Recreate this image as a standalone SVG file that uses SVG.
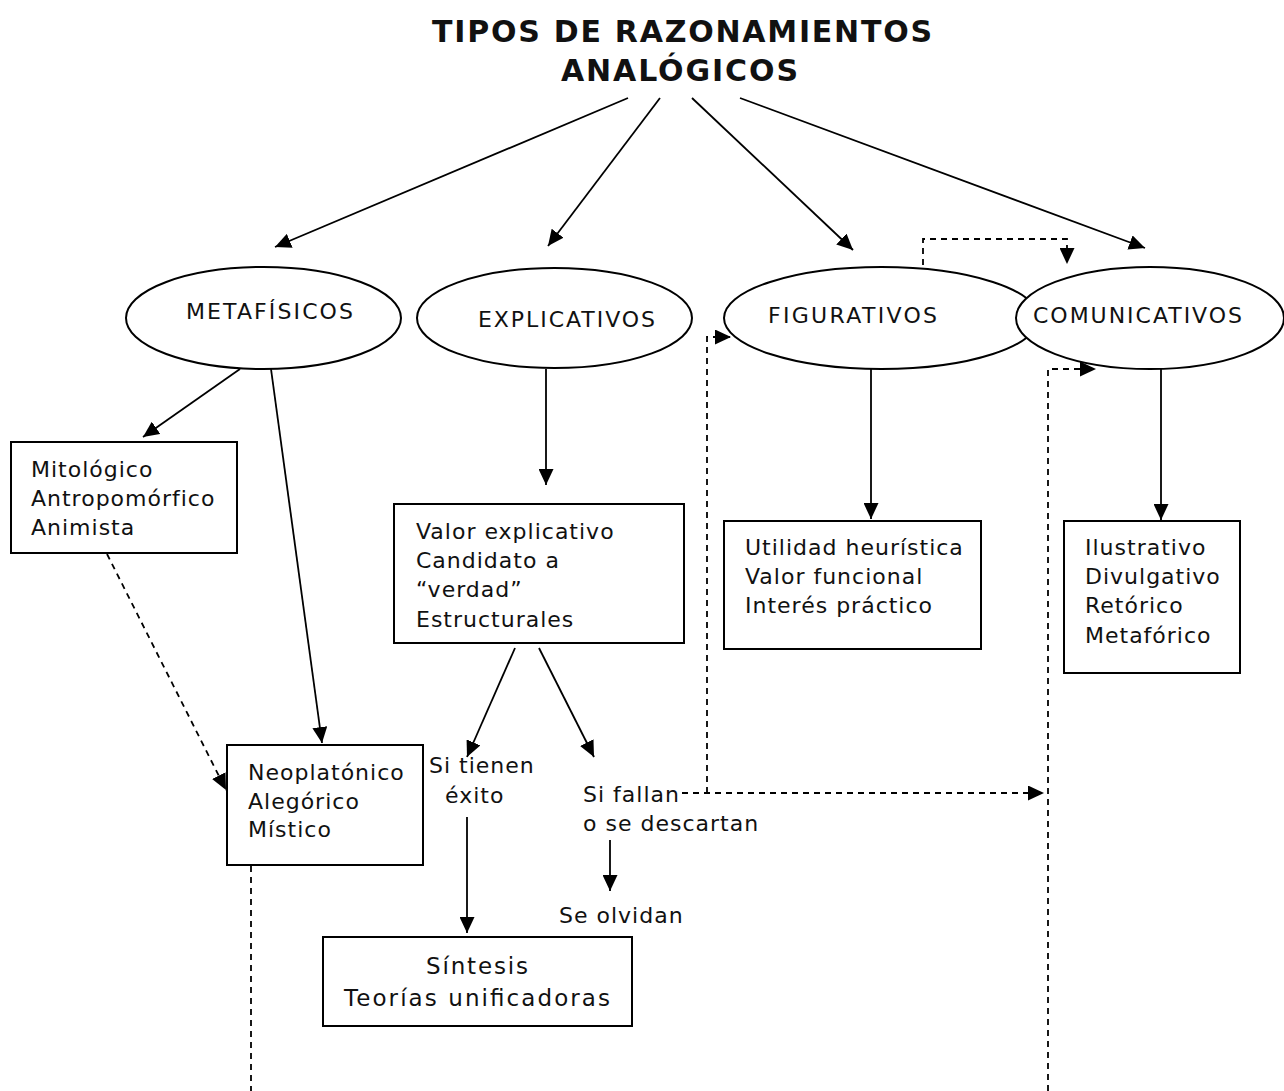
<svg xmlns="http://www.w3.org/2000/svg" width="1284" height="1091" viewBox="0 0 1284 1091">
<style>
  text { font-family: "DejaVu Sans", Verdana, sans-serif; fill: #111; }
  .title { font-size: 30px; font-weight: bold; }
  .lbl { font-size: 22px; }
  .t { font-size: 22px; letter-spacing: 1px; }
  .big { font-size: 23px; }
  .shape { fill: #fff; stroke: #000; stroke-width: 2; }
  .ln { fill: none; stroke: #000; stroke-width: 1.8; }
  .dash { fill: none; stroke: #000; stroke-width: 1.8; stroke-dasharray: 6 5; }
</style>
<defs>
  <marker id="ah" markerUnits="userSpaceOnUse" markerWidth="16" markerHeight="15" refX="16" refY="7.5" orient="auto">
    <path d="M0,0 L16,7.5 L0,15 z" fill="#000"/>
  </marker>
</defs>
<rect width="1284" height="1091" fill="#fff"/>

<g id="title">
  <text class="title" x="432" y="42" textLength="500" lengthAdjust="spacing">TIPOS DE RAZONAMIENTOS</text>
  <text class="title" x="561" y="81" textLength="237" lengthAdjust="spacing">ANALÓGICOS</text>
</g>

<g id="connectors">
  <line class="ln" x1="628" y1="98" x2="275" y2="247" marker-end="url(#ah)"/>
  <line class="ln" x1="660" y1="98" x2="548" y2="246" marker-end="url(#ah)"/>
  <line class="ln" x1="692" y1="98" x2="853" y2="250" marker-end="url(#ah)"/>
  <line class="ln" x1="740" y1="98" x2="1145" y2="248" marker-end="url(#ah)"/>
  <line class="ln" x1="240" y1="369" x2="143" y2="437" marker-end="url(#ah)"/>
  <line class="ln" x1="271" y1="369" x2="322" y2="743" marker-end="url(#ah)"/>
  <line class="dash" x1="107" y1="554" x2="226" y2="790" marker-end="url(#ah)"/>
  <line class="ln" x1="546" y1="369" x2="546" y2="485" marker-end="url(#ah)"/>
  <line class="ln" x1="515" y1="648" x2="467" y2="757" marker-end="url(#ah)"/>
  <line class="ln" x1="539" y1="648" x2="594" y2="757" marker-end="url(#ah)"/>
  <line class="ln" x1="467" y1="817" x2="467" y2="933" marker-end="url(#ah)"/>
  <line class="ln" x1="610" y1="840" x2="610" y2="891" marker-end="url(#ah)"/>
  <path class="dash" d="M682,793 H1044" marker-end="url(#ah)"/>
  <path class="dash" d="M707,793 V337 H731" marker-end="url(#ah)"/>
  <line class="ln" x1="871" y1="369" x2="871" y2="519" marker-end="url(#ah)"/>
  <path class="dash" d="M923,265 V239 H1067 V264" marker-end="url(#ah)"/>
  <line class="ln" x1="1161" y1="368" x2="1161" y2="520" marker-end="url(#ah)"/>
  <path class="dash" d="M1048,1091 V369 H1096" marker-end="url(#ah)"/>
  <path class="dash" d="M251,866 V1091"/>
</g>

<g id="metafisicos">
  <ellipse class="shape" cx="263.5" cy="318" rx="137.5" ry="51"/>
  <text class="lbl" x="186" y="319" textLength="167" lengthAdjust="spacing">METAFÍSICOS</text>
</g>
<g id="explicativos">
  <ellipse class="shape" cx="554.5" cy="318" rx="137.5" ry="50"/>
  <text class="lbl" x="478" y="327" textLength="177" lengthAdjust="spacing">EXPLICATIVOS</text>
</g>
<g id="figurativos">
  <ellipse class="shape" cx="881.5" cy="318" rx="157.5" ry="51"/>
  <text class="lbl" x="768" y="323" textLength="169" lengthAdjust="spacing">FIGURATIVOS</text>
</g>
<g id="comunicativos">
  <ellipse class="shape" cx="1150" cy="318" rx="134" ry="51"/>
  <text class="lbl" x="1033" y="323" textLength="209" lengthAdjust="spacing">COMUNICATIVOS</text>
</g>

<g id="mitologico">
  <rect class="shape" x="11" y="442" width="226" height="111"/>
  <text class="t" x="31" y="477">Mitológico</text>
  <text class="t" x="31" y="506">Antropomórfico</text>
  <text class="t" x="31" y="535">Animista</text>
</g>
<g id="neoplatonico">
  <rect class="shape" x="227" y="745" width="196" height="120"/>
  <text class="t" x="248" y="780">Neoplatónico</text>
  <text class="t" x="248" y="809">Alegórico</text>
  <text class="t" x="248" y="837">Místico</text>
</g>
<g id="valor">
  <rect class="shape" x="394" y="504" width="290" height="139"/>
  <text class="t" x="416" y="539">Valor explicativo</text>
  <text class="t" x="416" y="568">Candidato a</text>
  <text class="t" x="416" y="597">“verdad”</text>
  <text class="t" x="416" y="627">Estructurales</text>
</g>
<g id="utilidad">
  <rect class="shape" x="724" y="521" width="257" height="128"/>
  <text class="t" x="745" y="555">Utilidad heurística</text>
  <text class="t" x="745" y="584">Valor funcional</text>
  <text class="t" x="745" y="613">Interés práctico</text>
</g>
<g id="ilustrativo">
  <rect class="shape" x="1064" y="521" width="176" height="152"/>
  <text class="t" x="1085" y="555">Ilustrativo</text>
  <text class="t" x="1085" y="584">Divulgativo</text>
  <text class="t" x="1085" y="613">Retórico</text>
  <text class="t" x="1085" y="643">Metafórico</text>
</g>
<g id="sintesis">
  <rect class="shape" x="323" y="937" width="309" height="89"/>
  <text class="big" x="426" y="974" textLength="102" lengthAdjust="spacing">Síntesis</text>
  <text class="big" x="344" y="1006" textLength="266" lengthAdjust="spacing">Teorías unificadoras</text>
</g>
<g id="si-tienen">
  <text class="t" x="429" y="773">Si tienen</text>
  <text class="t" x="445" y="803">éxito</text>
</g>
<g id="si-fallan">
  <text class="t" x="583" y="802">Si fallan</text>
  <text class="t" x="583" y="831">o se descartan</text>
</g>
<g id="se-olvidan">
  <text class="t" x="559" y="923">Se olvidan</text>
</g>
</svg>
